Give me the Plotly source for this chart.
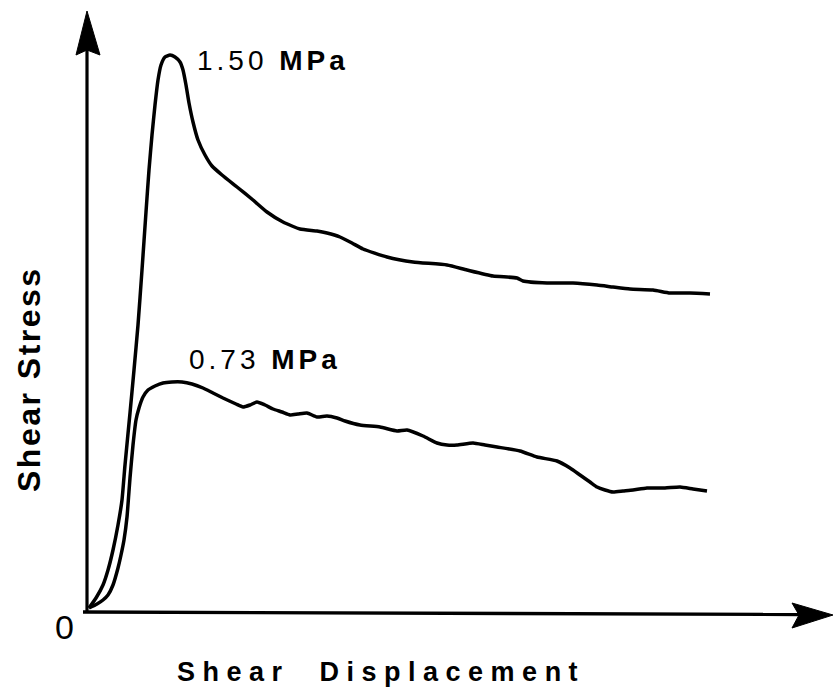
import plotly.graph_objects as go

# Shear stress vs. shear displacement for two normal stresses (relative units)
disp_150 = [0.00, 0.07, 0.14, 0.19, 0.24, 0.29, 0.33, 0.36, 0.41, 0.45, 0.49, 0.53, 0.57, 0.60,
            0.63, 0.66, 0.69, 0.72, 0.76, 0.81, 0.86, 0.91, 0.94, 0.97, 1.00, 1.04, 1.09, 1.16,
            1.23, 1.33, 1.48, 1.64, 1.78, 1.94, 2.11, 2.28, 2.38, 2.51, 2.63, 2.74, 2.98, 3.24,
            3.58, 3.78, 4.04, 4.28, 4.34, 4.58, 4.84, 5.08, 5.24, 5.41, 5.64, 5.81, 6.01, 6.21]
stress_150 = [0.04, 0.14, 0.27, 0.42, 0.62, 0.87, 1.12, 1.47, 1.99, 2.42, 2.87, 3.42, 4.00, 4.42,
              4.77, 5.07, 5.32, 5.47, 5.55, 5.57, 5.55, 5.50, 5.42, 5.27, 5.09, 4.90, 4.72, 4.57,
              4.46, 4.37, 4.25, 4.12, 4.00, 3.90, 3.83, 3.81, 3.79, 3.75, 3.69, 3.63, 3.55, 3.50,
              3.47, 3.42, 3.36, 3.34, 3.31, 3.29, 3.29, 3.27, 3.25, 3.23, 3.22, 3.19, 3.19, 3.18]

disp_073 = [0.00, 0.08, 0.14, 0.19, 0.24, 0.29, 0.32, 0.35, 0.38, 0.41, 0.44, 0.47, 0.50, 0.54,
            0.59, 0.66, 0.74, 0.83, 0.93, 1.03, 1.14, 1.24, 1.34, 1.47, 1.54, 1.61, 1.68, 1.76,
            1.84, 1.93, 2.01, 2.09, 2.18, 2.28, 2.38, 2.48, 2.56, 2.71, 2.91, 3.08, 3.18, 3.34,
            3.48, 3.58, 3.68, 3.84, 3.96, 4.08, 4.31, 4.48, 4.68, 4.81, 4.91, 5.01, 5.08, 5.16,
            5.24, 5.34, 5.44, 5.58, 5.76, 5.91, 6.04, 6.18]
stress_073 = [0.04, 0.08, 0.12, 0.17, 0.27, 0.44, 0.57, 0.72, 0.95, 1.34, 1.67, 1.92, 2.04, 2.15,
              2.22, 2.26, 2.29, 2.30, 2.30, 2.28, 2.24, 2.19, 2.14, 2.08, 2.05, 2.07, 2.10, 2.07,
              2.03, 2.00, 1.97, 1.98, 1.99, 1.95, 1.96, 1.94, 1.91, 1.87, 1.85, 1.81, 1.82, 1.76,
              1.69, 1.67, 1.67, 1.69, 1.67, 1.65, 1.61, 1.55, 1.51, 1.44, 1.37, 1.30, 1.25, 1.22,
              1.20, 1.21, 1.22, 1.24, 1.24, 1.25, 1.23, 1.21]

curve_labels = ["1.50 <b>MPa</b>", "0.73 <b>MPa</b>"]
x_title = "Shear  Displacement"
y_title = "Shear Stress"
origin_label = "0"

W, H = 834, 696
# pixel position of the origin and pixels per unit on each axis
OX, OY, SCALE = 89, 612, 100.0


def px_x(px):
    return (px - OX) / SCALE


def px_y(py):
    return (OY - py) / SCALE


FONT = "Liberation Sans, Arial, Helvetica, sans-serif"
INK = "#000000"

fig = go.Figure()
for xs, ys in [(disp_150, stress_150), (disp_073, stress_073)]:
    fig.add_trace(go.Scatter(
        x=xs, y=ys, mode="lines",
        line=dict(color=INK, width=3.5, shape="spline", smoothing=0.5),
        hoverinfo="skip", showlegend=False,
    ))

shapes = []
# axis lines
shapes.append(dict(type="line", xref="x", yref="y",
                   x0=px_x(83), y0=px_y(612), x1=px_x(800), y1=px_y(614.5),
                   line=dict(color=INK, width=3.4)))
shapes.append(dict(type="line", xref="x", yref="y",
                   x0=px_x(87), y0=px_y(613), x1=px_x(87), y1=px_y(50),
                   line=dict(color=INK, width=3.2)))


def arrow_path(pts):
    return "M " + " L ".join(f"{px_x(a):.4f},{px_y(b):.4f}" for a, b in pts) + " Z"


# arrowheads
shapes.append(dict(type="path", xref="x", yref="y",
                   path=arrow_path([(87, 11), (100, 55), (87, 50), (76, 55)]),
                   fillcolor=INK, line=dict(color=INK, width=1)))
shapes.append(dict(type="path", xref="x", yref="y",
                   path=arrow_path([(833, 615), (792, 603), (799, 615), (792, 628)]),
                   fillcolor=INK, line=dict(color=INK, width=1)))

annotations = [
    dict(x=px_x(273), y=px_y(60), text=f'<span style="letter-spacing:4px">{curve_labels[0]}</span>',
         font=dict(family=FONT, size=28, color=INK)),
    dict(x=px_x(265), y=px_y(359), text=f'<span style="letter-spacing:4px">{curve_labels[1]}</span>',
         font=dict(family=FONT, size=28, color=INK)),
    dict(x=px_x(64), y=px_y(627), text=origin_label,
         font=dict(family=FONT, size=34, color=INK)),
    dict(x=px_x(381), y=px_y(672), text=f'<span style="letter-spacing:7.5px"><b>{x_title}</b></span>',
         font=dict(family=FONT, size=27, color=INK)),
    dict(x=px_x(29), y=px_y(379), text=f'<span style="letter-spacing:2.5px"><b>{y_title}</b></span>',
         textangle=-90, font=dict(family=FONT, size=32, color=INK)),
]
for a in annotations:
    a.update(xref="x", yref="y", showarrow=False, xanchor="center", yanchor="middle")

fig.update_layout(
    width=W, height=H, autosize=False,
    margin=dict(l=0, r=0, t=0, b=0),
    paper_bgcolor="white", plot_bgcolor="white",
    xaxis=dict(range=[px_x(0), px_x(W)], visible=False, fixedrange=True),
    yaxis=dict(range=[px_y(H), px_y(0)], visible=False, fixedrange=True),
    shapes=shapes, annotations=annotations,
)

fig.write_html("out.html", config={"displayModeBar": False})
